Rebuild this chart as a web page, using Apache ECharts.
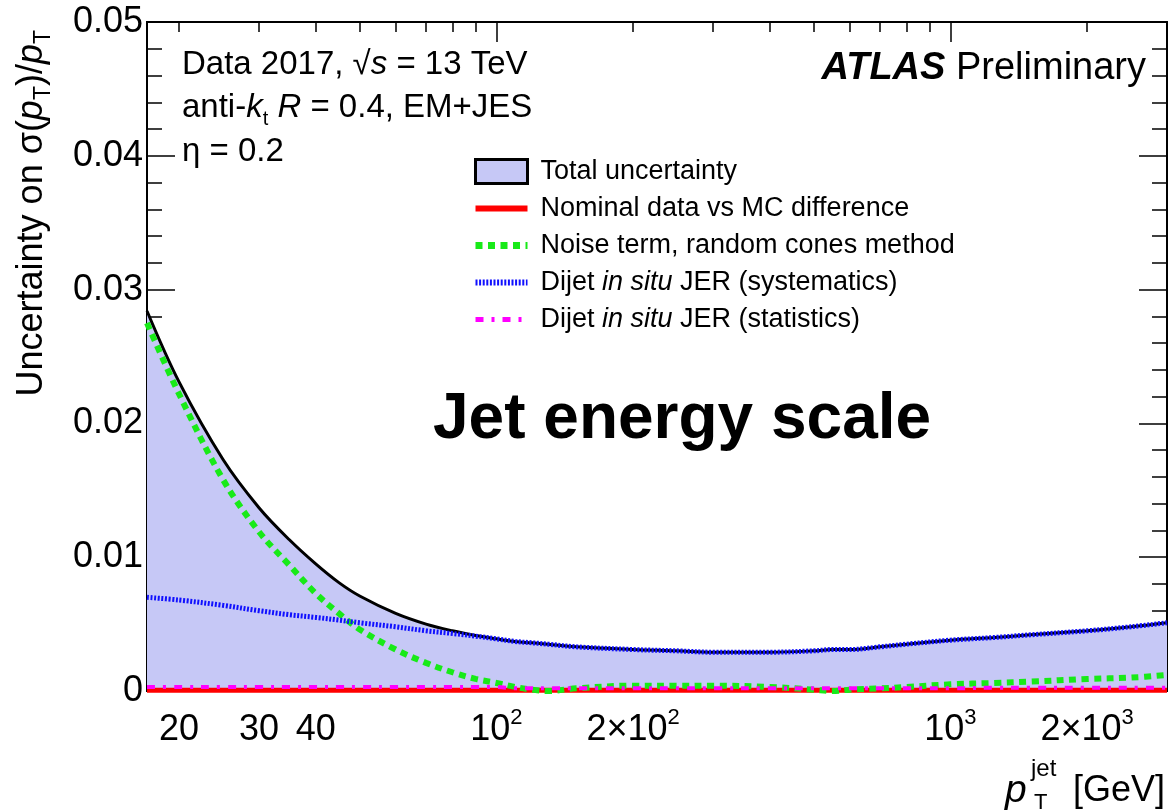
<!DOCTYPE html>
<html><head><meta charset="utf-8">
<script src="https://cdn.jsdelivr.net/npm/echarts@6/dist/echarts.min.js"></script>
<style>html,body{margin:0;padding:0;background:#fff}#c{width:1176px;height:811px}</style>
</head><body><div id="c"></div>
<script>
// ---- data ----
const ptValues   = [17,20,25,30,35,40,45,50,60,70,80,90,100,110,120,130,150,200,250,300,400,500,550,600,700,800,1000,1250,1500,2000,2500,3000];
const totalUnc   = [0.0284,0.0231,0.0173,0.0137,0.0113,0.0095,0.0081,0.0071,0.0058,0.0050,0.0045,0.00415,0.0039,0.0037,0.0036,0.0035,0.0033,0.0031,0.0030,0.0029,0.0029,0.0030,0.0031,0.0031,0.0033,0.0035,0.0038,0.0040,0.0042,0.0045,0.0048,0.0051];
const nominalDiff= [0.00005,0.00005,0.00005,0.00005,0.00005,0.00005,0.00005,0.00005,0.00005,0.00005,0.00005,0.00005,0.00005,0.00005,0.00005,0.00005,0.00005,0.00005,0.00005,0.00005,0.00005,0.00005,0.00005,0.00005,0.00005,0.00005,0.00005,0.00005,0.00005,0.00005,0.00005,0.00005];
const noiseTerm  = [0.0275,0.0222,0.0158,0.0119,0.0094,0.0073,0.0058,0.0046,0.0031,0.0021,0.0014,0.0009,0.0006,0.0003,0.0001,0.0000,0.0002,0.0004,0.0004,0.0004,0.0003,0.0001,0.0000,0.0001,0.0002,0.0003,0.0005,0.0006,0.0007,0.0009,0.0010,0.0012];
const dijetSyst  = [0.0070,0.0068,0.0064,0.0060,0.0057,0.0055,0.0053,0.0051,0.0048,0.0045,0.0043,0.0041,0.0039,0.0037,0.0036,0.0035,0.0033,0.0031,0.0030,0.0029,0.0029,0.0030,0.0031,0.0031,0.0033,0.0035,0.0038,0.0040,0.0042,0.0045,0.0048,0.0051];
const dijetStat  = [0.0003,0.0003,0.0003,0.0003,0.0003,0.0003,0.0003,0.0003,0.0003,0.0003,0.0003,0.0003,0.0003,0.0002,0.0002,0.0002,0.0002,0.0002,0.0002,0.0002,0.0002,0.0002,0.0002,0.0002,0.0002,0.0002,0.0002,0.00025,0.00025,0.00025,0.00025,0.00025];

const seriesNames = ['Total uncertainty','Nominal data vs MC difference','Noise term, random cones method','Dijet in situ JER (systematics)','Dijet in situ JER (statistics)'];
const legendRich = [
  '{n|Total uncertainty}',
  '{n|Nominal data vs MC difference}',
  '{n|Noise term, random cones method}',
  '{n|Dijet }{i|in situ}{n| JER (systematics)}',
  '{n|Dijet }{i|in situ}{n| JER (statistics)}'
];
const xMinorTicks = [20,30,40,50,60,70,80,90,200,300,400,500,600,700,800,900,2000,3000];
const xMajorTicks = [100,1000];
const xLabelValues = [20,30,40,100,200,1000,2000];
const xLabelTexts  = ['{b|20}','{b|30}','{b|40}','{b|10}{s|2}','{b|2×10}{s|2}','{b|10}{s|3}','{b|2×10}{s|3}'];
const yTickLabels  = ['0','0.01','0.02','0.03','0.04','0.05'];

// ---- chart ----
const F = '"Liberation Sans", Arial, Helvetica, sans-serif';
const fillColor = '#c6c8f6';
const chart = echarts.init(document.getElementById('c'), null, {renderer:'canvas'});
const pairs = arr => ptValues.map((p,i)=>[p, arr[i]]);

function xAxisDef(position, ticks, len, showLabel) {
  return {
    type:'log', logBase:10, min:17, max:3000, position:position,
    axisLine:{show:true, onZero:false, lineStyle:{color:'#000', width:2}},
    axisTick:{show:true, inside:true, length:len, customValues:ticks, lineStyle:{color:'#000', width:1.5}},
    axisLabel:{show:showLabel, customValues:xLabelValues, margin:16, color:'#000',
      formatter:function(v){ const i = xLabelValues.indexOf(Math.round(v)); return i>=0 ? xLabelTexts[i] : ''; },
      rich:{ b:{fontSize:36, fontFamily:F, color:'#000', lineHeight:46},
             s:{fontSize:22, fontFamily:F, color:'#000', verticalAlign:'top', lineHeight:22} } },
    splitLine:{show:false}, minorTick:{show:false}
  };
}
function yAxisDef(position, showLabel) {
  return {
    type:'value', min:0, max:0.05, interval:0.01, position:position,
    axisLine:{show:true, onZero:false, lineStyle:{color:'#000', width:2}},
    axisTick:{show:true, inside:true, length:28, lineStyle:{color:'#000', width:1.5}},
    minorTick:{show:true, splitNumber:5, length:15, lineStyle:{color:'#000', width:1.5}},
    axisLabel:{show:showLabel, fontSize:36, fontFamily:F, color:'#000', margin:4,
      formatter:function(v){ return yTickLabels[Math.round(v/0.01)]; }},
    splitLine:{show:false}
  };
}

const lineStyles = [
  {color:'#000', width:3},
  {color:'#ff0000', width:5},
  {color:'#18ea18', width:6, type:[7,5.5], cap:'butt'},
  {color:'#1010ff', width:5, type:[2,1.6], cap:'butt'},
  {color:'#ff00ff', width:4, type:[8,8,3,8], cap:'butt'}
];
const dataArrays = [totalUnc, nominalDiff, noiseTerm, dijetSyst, dijetStat];

const series = dataArrays.map((arr,k)=>{
  const s = {
    name: seriesNames[k], type:'line', xAxisIndex:0, yAxisIndex:0,
    data: pairs(arr), showSymbol:false, symbol:'none', smooth:0.35,
    lineStyle: lineStyles[k], itemStyle:{color: lineStyles[k].color},
    emphasis:{disabled:true}, silent:true, z: 2+k
  };
  if (k===0) s.areaStyle = {color:fillColor, opacity:1};
  return s;
});

const option = {
  animation:false,
  backgroundColor:'#fff',
  grid:{left:147, right:9, top:22, bottom:120, containLabel:false},
  xAxis:[ xAxisDef('bottom', xMinorTicks, 10, true), xAxisDef('bottom', xMajorTicks, 20, false),
          xAxisDef('top', xMinorTicks, 10, false), xAxisDef('top', xMajorTicks, 20, false) ],
  yAxis:[ yAxisDef('left', true), yAxisDef('right', false) ],
  legend:{
    orient:'vertical', left:472, top:158, padding:0, itemWidth:52, itemHeight:24, itemGap:10,
    selectedMode:false,
    textStyle:{fontSize:27, fontFamily:F, color:'#000', padding:[0,0,0,8],
      rich:{ n:{fontSize:27, fontFamily:F, color:'#000'}, i:{fontSize:27, fontFamily:F, color:'#000', fontStyle:'italic'} } },
    formatter:function(name){ return legendRich[seriesNames.indexOf(name)]; },
    data: seriesNames.map((n,k)=> k===0
      ? {name:n, icon:'rect', itemStyle:{color:fillColor, borderColor:'#000', borderWidth:3}}
      : {name:n, itemStyle:{opacity:0}, lineStyle:Object.assign({}, lineStyles[k], {width: k===1 ? 6 : lineStyles[k].width + 1})})
  },
  graphic:[
    {type:'text', left:182, top:48, z:100, style:{text:'{n|Data 2017, √}{i|s}{n| = 13 TeV}', fill:'#000',
      rich:{n:{fontSize:33, fontFamily:F}, i:{fontSize:33, fontFamily:F, fontStyle:'italic'}}}},
    {type:'text', left:182, top:91, z:100, style:{text:'{n|anti-}{i|k}{sub|t}{n| }{i|R}{n| = 0.4, EM+JES}', fill:'#000',
      rich:{n:{fontSize:33, fontFamily:F, lineHeight:44}, i:{fontSize:33, fontFamily:F, fontStyle:'italic', lineHeight:44},
            sub:{fontSize:20, fontFamily:F, verticalAlign:'bottom', lineHeight:22}}}},
    {type:'text', left:182, top:135, z:100, style:{text:'η = 0.2', fill:'#000', fontSize:33, fontFamily:F}},
    {type:'text', right:30, top:50, z:100, style:{text:'{b|ATLAS}{n| Preliminary}', fill:'#000',
      rich:{b:{fontSize:38, fontFamily:F, fontWeight:'bold', fontStyle:'italic'}, n:{fontSize:38, fontFamily:F}}}},
    {type:'text', left:433, top:388, z:100, style:{text:'Jet energy scale', fill:'#000', fontSize:64, fontWeight:'bold', fontFamily:F}},
    {type:'text', x:32, y:30, rotation:Math.PI/2, z:100, style:{text:'{n|Uncertainty on σ(}{i|p}{sub|T}{n|)/}{i|p}{sub|T}', fill:'#000',
      align:'right', verticalAlign:'middle',
      rich:{n:{fontSize:36, fontFamily:F, lineHeight:46}, i:{fontSize:36, fontFamily:F, fontStyle:'italic', lineHeight:46},
            sub:{fontSize:23, fontFamily:F, verticalAlign:'bottom', lineHeight:23}}}},
    {type:'text', x:1005, y:772, z:100, style:{text:'p', fill:'#000', fontSize:39, fontFamily:F, fontStyle:'italic'}},
    {type:'text', x:1031, y:757, z:100, style:{text:'jet', fill:'#000', fontSize:24, fontFamily:F}},
    {type:'text', x:1034, y:792, z:100, style:{text:'T', fill:'#000', fontSize:22, fontFamily:F}},
    {type:'text', x:1073, y:773, z:100, style:{text:'[GeV]', fill:'#000', fontSize:36, fontFamily:F}}
  ],
  series: series
};
chart.setOption(option);
</script></body></html>
